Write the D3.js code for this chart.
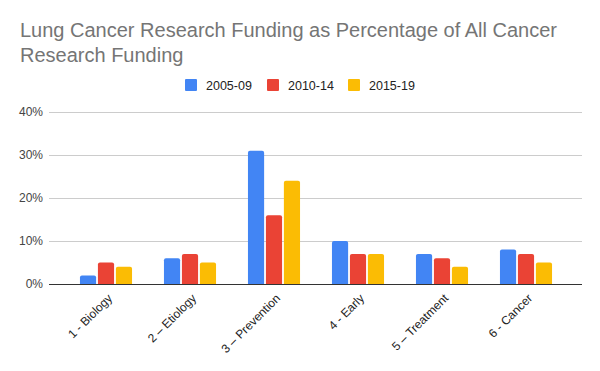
<!DOCTYPE html>
<html>
<head>
<meta charset="utf-8">
<script src="https://cdn.jsdelivr.net/npm/d3@7"></script>
<style>
  body { margin: 0; background: #fff; }
  svg { display: block; font-family: Arial, "Liberation Sans", sans-serif; }
</style>
</head>
<body>
<div id="chart"></div>
<script>
const categories = ["1 - Biology", "2 \u2013 Etiology", "3 \u2013 Prevention", "4 - Early", "5 \u2013 Treatment", "6 - Cancer"];
const seriesNames = ["2005-09", "2010-14", "2015-19"];
const values2005 = [2, 6, 31, 10, 7, 8];
const values2010 = [5, 7, 16, 7, 6, 7];
const values2015 = [4, 5, 24, 7, 4, 5];
const yTicks = [0, 10, 20, 30, 40];
const colors = ["#4285f4", "#ea4335", "#fbbc04"];

const width = 600;
const height = 371;
const margin = { top: 112, right: 18, bottom: 87, left: 49 };
const fontFamily = "Arial, 'Liberation Sans', sans-serif";

const series = [values2005, values2010, values2015];

const svg = d3.select("#chart").append("svg")
  .attr("width", width)
  .attr("height", height);

/** Title **/
const title = svg.append("text")
  .attr("x", 20)
  .attr("fill", "#757575")
  .attr("font-size", 20);
title.append("tspan").attr("x", 20).attr("y", 37).text("Lung Cancer Research Funding as Percentage of All Cancer");
title.append("tspan").attr("x", 20).attr("y", 62).text("Research Funding");

/** Legend **/
const legendX = [185, 267, 348];
const legend = svg.append("g").attr("font-size", 12.5).attr("fill", "#222");
seriesNames.forEach((name, i) => {
  legend.append("rect")
    .attr("x", legendX[i]).attr("y", 79)
    .attr("width", 12).attr("height", 12)
    .attr("rx", 1)
    .attr("fill", colors[i]);
  legend.append("text")
    .attr("x", legendX[i] + 21).attr("y", 89.5)
    .text(name);
});

/** Scales **/
const plotLeft = margin.left;
const plotRight = width - margin.right;
const y = d3.scaleLinear().domain([0, 40]).range([height - margin.bottom, margin.top]);

const x0 = d3.scaleBand()
  .domain(categories)
  .range([plotLeft + 15, plotRight - 14])
  .paddingInner(0.38)
  .paddingOuter(0.19);
const x1 = d3.scaleBand()
  .domain(seriesNames)
  .range([0, x0.bandwidth()])
  .paddingInner(0.1);

/** Y axis **/
svg.append("g")
  .attr("transform", `translate(${plotLeft}, 0)`)
  .call(d3.axisLeft(y).tickValues(yTicks).tickFormat((d) => `${d}%`).tickSize(0).tickPadding(6))
  .call((g) => {
    g.select(".domain").remove();
    g.selectAll(".tick text").attr("fill", "#444").attr("font-size", 12).attr("font-family", fontFamily);
    g.selectAll(".tick line").remove();
    g.selectAll(".tick").filter((d) => d !== 0)
      .append("line")
      .attr("x1", 0).attr("x2", plotRight - plotLeft)
      .attr("stroke", "#cccccc").attr("stroke-width", 1)
      .attr("shape-rendering", "crispEdges");
  });

/** Bars **/
const groups = svg.append("g").selectAll("g")
  .data(categories)
  .join("g")
  .attr("transform", (d) => `translate(${x0(d)}, 0)`);

groups.selectAll("path")
  .data((d, ci) => series.map((s, si) => ({ key: seriesNames[si], value: s[ci], color: colors[si] })))
  .join("path")
  .attr("fill", (d) => d.color)
  .attr("d", (d) => {
    const bx = x1(d.key), bw = x1.bandwidth();
    const top = y(d.value), base = y(0), r = 2;
    return `M${bx},${base}V${top + r}Q${bx},${top} ${bx + r},${top}H${bx + bw - r}Q${bx + bw},${top} ${bx + bw},${top + r}V${base}Z`;
  });

/** Baseline **/
svg.append("line")
  .attr("x1", plotLeft).attr("x2", plotRight)
  .attr("y1", y(0) + 0.5).attr("y2", y(0) + 0.5)
  .attr("stroke", "#333").attr("stroke-width", 1.2);

/** X axis labels **/
svg.append("g")
  .attr("transform", `translate(0, ${y(0)})`)
  .call(d3.axisBottom(x0).tickSize(0).tickPadding(0))
  .call((g) => {
    g.select(".domain").remove();
    g.selectAll(".tick text")
      .attr("fill", "#222")
      .attr("font-size", 12)
      .attr("font-family", fontFamily)
      .attr("text-anchor", "end")
      .attr("dy", null)
      .attr("y", 0)
      .attr("transform", "translate(7, 15) rotate(-45)");
  });
</script>
</body>
</html>
